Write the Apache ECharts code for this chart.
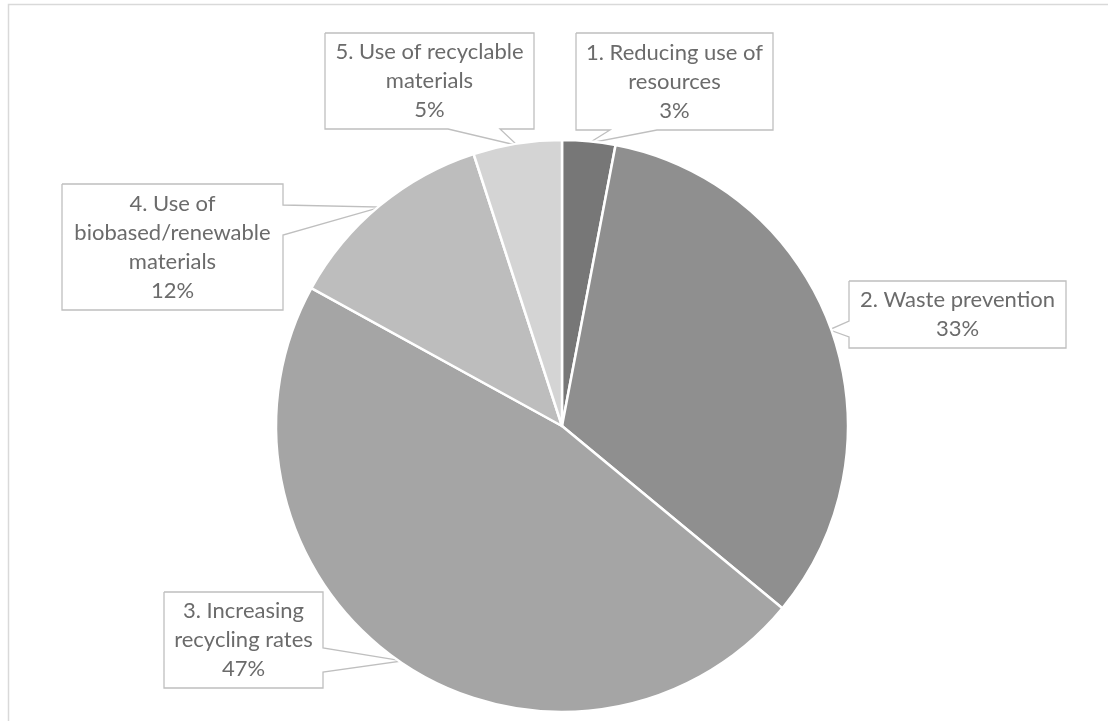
<!DOCTYPE html>
<html>
<head>
<meta charset="utf-8">
<script src="https://cdn.jsdelivr.net/npm/echarts@6/dist/echarts.min.js"></script>
<style>
html,body{margin:0;padding:0;background:#fff;}
#chart{width:1108px;height:721px;}
</style>
</head>
<body>
<div id="chart"></div>
<script>
// ---- data ----
const categories = [
  '1. Reducing use of\nresources',
  '2. Waste prevention',
  '3. Increasing\nrecycling rates',
  '4. Use of\nbiobased/renewable\nmaterials',
  '5. Use of recyclable\nmaterials'
];
const values = [3, 33, 47, 12, 5];

// ---- styling / layout (not data) ----
const colors = ['#777777', '#8f8f8f', '#a5a5a5', '#bdbdbd', '#d4d4d4'];
const CX = 562, CY = 426, R = 286;
// callout boxes: [left, top, width, height], pointer base side and two base coords
const boxes = [
  {r: [576, 33, 197, 97],  side: 'bottom', a: 610, b: 657},
  {r: [849, 281, 217, 67], side: 'left',   a: 321, b: 337},
  {r: [164, 592, 159, 96], side: 'right',  a: 648, b: 672},
  {r: [62, 184, 221, 126], side: 'right',  a: 205, b: 235},
  {r: [325, 33, 209, 96],  side: 'bottom', a: 448, b: 500}
];
const LINE_H = 29;

const chart = echarts.init(document.getElementById('chart'), null, {renderer: 'canvas'});

const seriesData = categories.map((c, i) => {
  const lines = c.split('\n').length + 1;
  const bx = boxes[i].r;
  const pv = (bx[3] - lines * LINE_H) / 2;
  return {
    name: c,
    value: values[i],
    itemStyle: {color: colors[i]},
    label: {width: bx[2], padding: [pv, 0, pv, 0]}
  };
});

chart.setOption({
  animation: false,
  backgroundColor: '#ffffff',
  graphic: [{
    type: 'rect',
    shape: {x: 8.5, y: 4.5, width: 1200, height: 800},
    style: {fill: 'none', stroke: '#d9d9d9', lineWidth: 1.5},
    silent: true,
    z: -10
  }],
  series: [{
    type: 'pie',
    center: [CX, CY],
    radius: [0, R],
    startAngle: 90,
    clockwise: true,
    avoidLabelOverlap: false,
    itemStyle: {borderColor: '#ffffff', borderWidth: 2.5},
    label: {
      show: true,
      position: 'outside',
      formatter: p => p.name + '\n' + Math.round(p.percent) + '%',
      fontFamily: 'Lato, "Open Sans", sans-serif',
      fontSize: 22,
      lineHeight: LINE_H,
      color: '#6b6b6b',
      align: 'center',
      overflow: 'none'
    },
    labelLine: {
      show: true,
      length: 10,
      length2: 10,
      smooth: false,
      lineStyle: {color: '#bfbfbf', width: 1.3}
    },
    labelLayout: function (params) {
      const bx = boxes[params.dataIndex];
      const [l, t, w, h] = bx.r;
      const rr = l + w, bb = t + h;
      let tip = [l, t];
      if (params.labelLinePoints) {
        const p0 = params.labelLinePoints[0];
        const dx = p0[0] - CX, dy = p0[1] - CY;
        const d = Math.sqrt(dx * dx + dy * dy) || 1;
        tip = [CX + dx / d * (R - 2), CY + dy / d * (R - 2)];
      }
      let pts;
      if (bx.side === 'bottom') {
        pts = [[l, t], [rr, t], [rr, bb], [bx.b, bb], tip, [bx.a, bb], [l, bb], [l, t]];
      } else if (bx.side === 'left') {
        pts = [[l, t], [rr, t], [rr, bb], [l, bb], [l, bx.b], tip, [l, bx.a], [l, t]];
      } else {
        pts = [[l, t], [rr, t], [rr, bx.a], tip, [rr, bx.b], [rr, bb], [l, bb], [l, t]];
      }
      return {
        x: l + w / 2,
        y: t + h / 2,
        align: 'center',
        verticalAlign: 'middle',
        labelLinePoints: pts
      };
    },
    data: seriesData
  }]
});
</script>
</body>
</html>
